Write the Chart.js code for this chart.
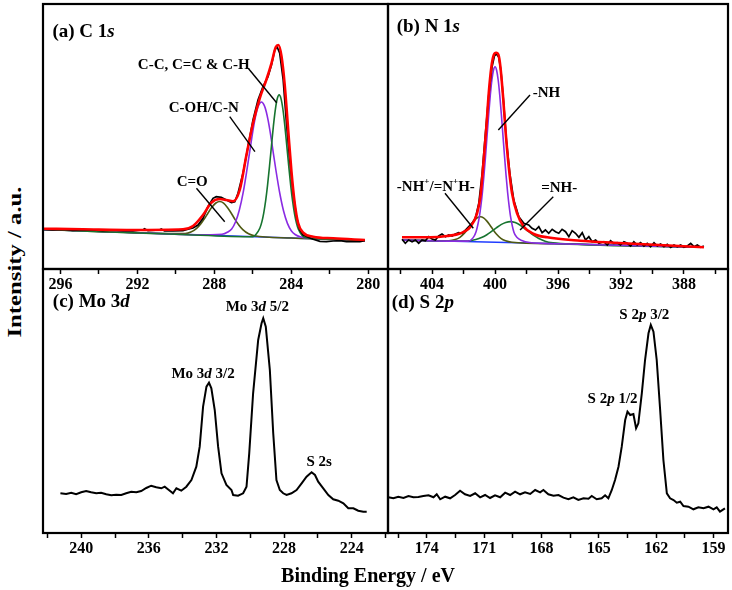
<!DOCTYPE html>
<html><head><meta charset="utf-8">
<script src="https://cdn.jsdelivr.net/npm/chart.js@4"></script>
<style>
body{margin:0;background:#fff;width:732px;height:590px;position:relative;overflow:hidden;font-family:"Liberation Serif","Times New Roman",serif;}
canvas{position:absolute;}
#ylab{position:absolute;left:15px;top:262px;transform:translate(-50%,-50%) rotate(-90deg) scaleX(1.3);font-weight:bold;font-size:19px;white-space:nowrap;}
#xlab{position:absolute;left:368px;top:575px;transform:translate(-50%,-50%);font-weight:bold;font-size:20px;white-space:nowrap;}
</style></head><body>
<canvas id="ca" width="351" height="300" style="left:40px;top:1px"></canvas>
<canvas id="cb" width="346" height="300" style="left:385px;top:1px"></canvas>
<canvas id="cc" width="351" height="299" style="left:40px;top:266px"></canvas>
<canvas id="cd" width="346" height="299" style="left:385px;top:266px"></canvas>
<div id="ylab">Intensity / a.u.</div>
<div id="xlab">Binding Energy / eV</div>
<script>
// ---------- (a) C 1s ----------
const aE_exp = [296.9,296.40,295.88,295.36,294.84,294.32,293.80,293.28,292.75,292.23,291.71,291.63,291.45,290.85,290.76,290.59,290.15,289.63,289.37,289.11,288.85,288.59,288.33,288.07,287.90,287.64,287.37,287.11,286.94,286.77,286.51,286.25,285.99,285.73,285.47,285.21,285.03,284.86,284.74,284.60,284.42,284.25,284.08,283.90,283.73,283.56,283.38,283.12,282.86,282.51,282.17,281.82,281.47,281.13,280.78,280.43,280.17];
const aI_exp = [39.7,39.0,39.7,38.7,39.3,39.0,38.3,39.0,38.3,38.0,39.0,40.3,38.3,39.0,40.0,38.0,38.0,38.3,39.7,41.0,44.0,50.7,62.3,70.7,72.3,71.7,69.0,66.3,67.3,75.7,95.7,122.3,149.0,169.0,182.3,192.3,204.0,219.0,222.3,215.7,189.0,145.7,109.0,75.7,52.3,39.0,34.0,31.7,29.7,27.7,27.3,28.0,28.3,27.3,27.7,27.3,28.3];
const aE_fit = [296.9,294.84,292.23,289.63,289.11,288.59,288.16,287.72,287.37,287.03,286.68,286.33,285.99,285.64,285.30,285.03,284.81,284.67,284.51,284.34,284.16,283.99,283.82,283.64,283.38,282.86,281.82,280.17];
const aI_fit = [40.3,39.7,39.0,39.7,43.0,54.0,66.3,70.0,69.0,67.7,79.0,114.0,145.7,170.7,189.0,205.7,221.7,224.0,213.0,184.0,139.0,97.3,65.7,45.7,36.3,32.3,30.7,29.0];
const aE_bg = [296.9,280.17];
const aI_bg = [39.5,28.5];
const aE_coh = [296.9,292.0,289.0,287.6,287.3,287.1,286.9,286.7,286.5,286.3,286.1,286.0,285.9,285.8,285.7,285.55,285.4,285.3,285.2,285.1,285.0,284.8,284.6,284.4,284.2,284.0,283.8,283.5,283.0,281.5,280.17];
const aI_coh = [39.5,36.3,34.3,34.8,37.0,40.0,47.0,59.0,76.6,99.8,125.0,137.6,148.6,157.5,163.5,167.0,163.3,157.3,148.3,137.3,124.7,99.0,76.0,58.0,45.6,38.3,34.5,32.0,30.7,29.4,28.5];
const aE_cc = [296.9,290.0,286.0,285.83,285.63,285.53,285.43,285.33,285.23,285.13,285.03,284.93,284.83,284.73,284.63,284.53,284.43,284.33,284.23,284.13,284.03,283.93,283.83,283.73,283.63,283.43,283.23,282.0,280.17];
const aI_cc = [39.5,34.8,32.3,34.8,41.0,47.1,56.2,68.6,84.4,103.1,123.2,142.8,159.2,170.2,174.1,170.1,159.0,142.4,122.7,102.5,83.7,67.8,55.2,46.0,39.8,33.4,31.2,29.7,28.5];
const aE_co = [296.9,291.0,289.52,289.22,288.92,288.72,288.52,288.32,288.12,287.92,287.72,287.52,287.32,287.12,286.92,286.72,286.52,286.22,285.92,284.0,280.17];
const aI_co = [39.5,35.6,35.4,36.9,40.7,44.8,50.2,56.3,61.9,66.0,67.5,65.9,61.6,55.8,49.4,43.8,39.4,35.2,33.3,31.0,28.5];
const aTicks = [296,294,292,290,288,286,284,282,280];
const aMajor = [296,292,288,284,280];

// ---------- (b) N 1s ----------
const bE_exp = [405.91,405.70,405.49,405.27,405.06,404.85,404.64,404.43,404.21,404.00,403.79,403.58,403.37,403.15,402.94,402.73,402.52,402.31,402.09,401.88,401.67,401.46,401.25,401.03,400.82,400.61,400.40,400.19,400.04,399.91,399.76,399.62,399.45,399.28,399.06,398.81,398.49,398.17,397.86,397.65,397.43,397.22,397.01,396.80,396.59,396.37,396.16,395.95,395.74,395.52,395.31,395.10,394.89,394.67,394.46,394.25,394.04,393.83,393.61,393.40,393.09,392.87,392.66,392.45,392.24,392.03,391.81,391.60,391.39,391.18,390.97,390.75,390.54,390.33,390.12,389.90,389.69,389.48,389.27,389.06,388.84,388.63,388.42,388.21,388.00,387.78,387.57,387.36,387.15,386.94,386.73];
const bI_exp = [29.7,25.7,29.0,27.3,29.0,25.7,29.0,28.3,32.3,30.0,29.0,33.0,35.0,32.3,34.0,33.0,35.0,36.3,35.7,39.0,42.3,45.7,50.7,65.7,95.7,135.7,174.0,202.3,213.0,215.0,211.7,197.3,165.7,129.0,95.7,69.0,52.3,45.7,44.0,40.7,39.0,42.3,36.3,39.0,35.7,39.7,37.3,35.7,39.7,37.3,32.3,38.3,35.7,31.7,36.3,29.0,32.3,27.3,29.0,25.7,27.3,24.0,28.3,25.7,26.3,24.0,27.3,25.7,23.0,27.3,24.0,26.3,23.0,25.7,22.3,26.3,23.0,25.0,22.3,24.7,21.7,24.0,22.3,24.0,21.7,23.0,25.7,22.3,24.0,21.7,23.0];
const bE_fit = [405.91,404.11,403.05,402.20,401.56,401.14,400.93,400.72,400.55,400.40,400.23,400.08,399.93,399.78,399.66,399.49,399.32,399.13,398.92,398.60,398.17,397.54,396.69,394.57,392.45,386.73];
const bI_fit = [31.7,31.7,33.0,35.7,42.3,55.7,72.3,109.0,142.3,175.7,202.3,214.0,216.3,214.0,202.3,172.3,135.7,102.3,75.7,55.7,42.3,35.0,31.7,28.3,26.3,21.7];
const bE_bg = [405.9,386.73];
const bI_bg = [29.0,21.7];
const bE_nh = [405.9,403.0,401.7,401.4,401.2,401.0,400.9,400.8,400.7,400.6,400.5,400.4,400.3,400.2,400.1,400.0,399.9,399.8,399.7,399.6,399.5,399.4,399.3,399.2,399.1,399.0,398.8,398.6,398.3,397.8,396.0,386.73];
const bI_nh = [29.0,27.9,27.9,31.1,37.6,51.9,63.0,77.1,94.3,113.6,134.5,155.2,174.0,189.2,198.8,202.3,198.8,189.0,173.8,154.9,134.1,113.2,93.7,76.5,62.4,51.1,36.8,31.5,28.5,26.5,25.2,21.7];
const bE_nhp = [405.9,403.5,402.93,402.53,402.23,401.93,401.73,401.53,401.33,401.13,400.93,400.73,400.53,400.33,400.13,399.93,399.63,399.33,398.93,396.0,386.73];
const bI_nhp = [29.0,28.2,28.3,29.4,31.7,36.1,40.0,44.4,48.4,51.3,52.2,51.1,48.1,44.0,39.4,35.3,30.7,28.2,26.8,25.2,21.7];
const bE_nh2 = [405.9,403.0,401.72,401.22,400.82,400.52,400.22,399.92,399.62,399.32,399.02,398.72,398.42,398.12,397.82,397.52,397.22,396.82,396.32,395.82,386.73];
const bI_nh2 = [29.0,27.9,28.0,29.4,31.7,34.3,37.6,41.1,44.4,46.6,47.4,46.4,44.0,40.5,36.8,33.3,30.5,27.8,26.1,25.4,21.7];
const bTicks = [406,404,402,400,398,396,394,392,390,388,386];
const bMajor = [404,400,396,392,388];

// ---------- (c) Mo 3d ----------
const cE = [241.23,240.89,240.59,240.30,240.00,239.71,239.41,239.11,238.82,238.52,238.22,237.93,237.63,237.34,237.04,236.74,236.45,236.15,235.86,235.56,235.26,235.06,234.87,234.57,234.37,234.08,233.78,233.48,233.19,232.99,232.79,232.59,232.44,232.30,232.10,231.90,231.70,231.41,231.11,231.01,230.72,230.42,230.22,230.06,229.83,229.53,229.33,229.23,229.08,228.84,228.64,228.45,228.25,228.05,227.85,227.56,227.26,226.96,226.67,226.37,226.17,225.98,225.68,225.38,225.09,224.79,224.49,224.20,223.90,223.61,223.31,223.11];
const cI = [39.7,39.0,40.3,38.7,40.7,42.0,40.7,39.7,40.3,38.7,37.7,38.3,38.0,39.7,41.3,40.7,42.0,45.0,47.3,45.7,44.7,46.3,43.7,39.7,44.7,42.3,46.3,53.0,66.3,86.3,126.3,146.3,150.3,144.7,123.0,86.3,59.7,48.0,43.0,38.0,37.3,39.7,46.3,79.7,139.7,193.0,209.7,214.7,206.3,163.0,99.7,53.0,43.0,39.7,38.0,39.7,43.0,49.7,56.3,60.7,58.0,51.3,44.7,38.0,33.7,32.3,29.7,24.7,24.7,22.3,21.3,21.3];
const cTicks = [242,240,238,236,234,232,230,228,226,224,222];
const cMajor = [240,236,232,228,224];

// ---------- (d) S 2p ----------
const dE = [176.01,175.75,175.49,175.22,174.96,174.70,174.44,174.18,173.91,173.65,173.48,173.30,173.04,172.78,172.52,172.26,172.00,171.73,171.47,171.21,170.95,170.69,170.43,170.16,169.90,169.64,169.38,169.12,168.86,168.59,168.33,168.07,167.90,167.64,167.37,167.11,166.85,166.59,166.33,166.07,165.80,165.54,165.37,165.11,164.85,164.67,164.50,164.32,164.15,163.97,163.80,163.62,163.50,163.36,163.19,163.05,162.93,162.75,162.58,162.40,162.28,162.14,161.97,161.79,161.62,161.44,161.27,161.09,160.92,160.74,160.57,160.31,160.05,159.79,159.52,159.26,159.00,158.83,158.66,158.40];
const dI = [35.7,34.7,36.3,35.0,37.0,35.7,36.0,37.0,37.7,35.7,38.7,33.7,36.3,34.7,38.0,42.3,38.7,37.0,39.7,35.7,38.0,35.0,37.7,35.7,40.3,38.0,41.3,38.7,40.7,39.0,43.0,40.7,43.0,38.7,37.3,38.0,35.3,33.7,35.7,33.0,34.7,34.3,37.0,33.7,34.7,37.7,34.7,43.0,53.0,66.3,86.3,113.0,121.3,118.0,119.0,104.7,109.7,139.7,173.0,199.7,208.0,201.3,173.0,123.0,73.0,39.7,34.7,33.0,30.3,31.3,27.0,26.3,23.7,25.7,24.7,26.3,23.7,25.7,21.3,24.7];
const dTicks = [175.5,174,172.5,171,169.5,168,166.5,165,163.5,162,160.5,159];
const dMajor = [174,171,168,165,162,159];

// ---------- drawing helpers ----------
const FONT = '"Liberation Serif","Times New Roman",serif';
const COL = {exp:'#000000', fit:'#ff0000', bg:'#1f3cff', main:'#8a2be2', green:'#17742f', olive:'#4f5a12'};

function ser(E, I, color, width, order, smooth) {
  return {data: E.map((e, i) => ({x: e, y: I[i]})), borderColor: color, borderWidth: width,
    pointRadius: 0, fill: false, order: order, tension: 0,
    cubicInterpolationMode: smooth ? 'monotone' : 'default'};
}
function drawRich(ctx, segs, x, y, size, align) {
  const parts = segs.map(([t, st]) => {
    const sz = st === 'sup' ? Math.round(size * 0.62) : size;
    const font = (st === 'i' ? 'italic ' : '') + 'bold ' + sz + 'px ' + FONT;
    ctx.font = font;
    return {t, font, w: ctx.measureText(t).width, dy: st === 'sup' ? -size * 0.36 : 0};
  });
  const total = parts.reduce((a, p) => a + p.w, 0);
  let cx = align === 'center' ? x - total / 2 : x;
  ctx.textBaseline = 'middle'; ctx.textAlign = 'left'; ctx.fillStyle = '#000';
  for (const p of parts) { ctx.font = p.font; ctx.fillText(p.t, cx, y + p.dy); cx += p.w; }
}
const annot = {
  id: 'annot',
  afterDatasetsDraw(chart, args, opts) {
    const {ctx, chartArea: ca, scales: {x, y}} = chart;
    ctx.save();
    ctx.strokeStyle = '#000'; ctx.lineWidth = 2.2;
    ctx.strokeRect(ca.left, ca.top, ca.right - ca.left, ca.bottom - ca.top);
    ctx.lineWidth = 1.4;
    for (const [x1, y1, x2, y2] of (opts.leaders || [])) {
      ctx.beginPath();
      ctx.moveTo(x.getPixelForValue(x1), y.getPixelForValue(y1));
      ctx.lineTo(x.getPixelForValue(x2), y.getPixelForValue(y2));
      ctx.stroke();
    }
    for (const L of (opts.labels || [])) drawRich(ctx, L.segs, x.getPixelForValue(L.x), y.getPixelForValue(L.y), L.size, L.align);
    ctx.restore();
  }
};
function makeChart(id, datasets, xmin, xmax, ymax, ticks, majors, ann) {
  return new Chart(document.getElementById(id), {
    type: 'line',
    data: {datasets},
    plugins: [annot],
    options: {
      responsive: false, animation: false, events: [],
      layout: {padding: {left: 3, right: 3, top: 3, bottom: 0}},
      plugins: {legend: {display: false}, tooltip: {enabled: false}, annot: ann},
      scales: {
        x: {type: 'linear', reverse: true, min: xmin, max: xmax,
          afterBuildTicks: s => { s.ticks = ticks.map(v => ({value: v})); },
          afterFit: s => { s.height = 32; s.paddingLeft = 0; s.paddingRight = 0; },
          ticks: {autoSkip: false, maxRotation: 0, color: '#000', padding: 1,
            font: {family: FONT, size: 16, weight: 'bold'},
            callback: v => majors.some(m => Math.abs(m - v) < 1e-6) ? String(v) : ''},
          grid: {drawOnChartArea: false, drawTicks: true, tickLength: 5, color: '#000', tickWidth: 1.5},
          border: {display: false}},
        y: {display: false, min: 0, max: ymax}
      }
    }
  });
}

makeChart('ca', [
  ser(aE_fit, aI_fit, COL.fit, 2.6, 0, true),
  ser(aE_exp, aI_exp, COL.exp, 1.7, 1, false),
  ser(aE_cc, aI_cc, COL.green, 1.6, 2, true),
  ser(aE_coh, aI_coh, COL.main, 1.6, 3, true),
  ser(aE_co, aI_co, COL.olive, 1.6, 4, true),
  ser(aE_bg, aI_bg, COL.bg, 1.4, 5, false)
], 278.97, 296.91, 265, aTicks, aMajor, {
  labels: [
    {segs: [['(a) C 1', 'n'], ['s', 'i']], x: 296.42, y: 236.5, size: 19, align: 'left'},
    {segs: [['C-C, C=C & C-H', 'n']], x: 289.07, y: 204, size: 15, align: 'center'},
    {segs: [['C-OH/C-N', 'n']], x: 288.55, y: 161, size: 15, align: 'center'},
    {segs: [['C=O', 'n']], x: 289.15, y: 87, size: 15, align: 'center'}
  ],
  leaders: [[286.24, 200.7, 284.76, 166.3], [287.20, 152.3, 285.89, 117.3], [288.93, 80.7, 287.46, 47.3]]
});

makeChart('cb', [
  ser(bE_fit, bI_fit, COL.fit, 2.6, 0, true),
  ser(bE_exp, bI_exp, COL.exp, 1.7, 1, false),
  ser(bE_nh, bI_nh, COL.main, 1.6, 2, true),
  ser(bE_nh2, bI_nh2, COL.green, 1.6, 3, true),
  ser(bE_nhp, bI_nhp, COL.olive, 1.6, 4, true),
  ser(bE_bg, bI_bg, COL.bg, 1.4, 5, false)
], 385.2, 406.8, 265, bTicks, bMajor, {
  labels: [
    {segs: [['(b) N 1', 'n'], ['s', 'i']], x: 406.25, y: 242.3, size: 19, align: 'left'},
    {segs: [['-NH', 'n']], x: 396.73, y: 176, size: 15, align: 'center'},
    {segs: [['-NH', 'n'], ['+', 'sup'], ['/=N', 'n'], ['+', 'sup'], ['H-', 'n']], x: 403.76, y: 81.5, size: 15, align: 'center'},
    {segs: [['=NH-', 'n']], x: 395.92, y: 81, size: 15, align: 'center'}
  ],
  leaders: [[397.78, 174, 399.79, 139], [403.18, 75.7, 401.38, 40.7], [396.30, 72.3, 398.41, 39]]
});

makeChart('cc', [
  ser(cE, cI, COL.exp, 2, 0, false)
], 221.85, 242.26, 264, cTicks, cMajor, {
  labels: [
    {segs: [['(c) Mo 3', 'n'], ['d', 'i']], x: 241.68, y: 231.3, size: 19, align: 'left'},
    {segs: [['Mo 3', 'n'], ['d', 'i'], [' 3/2', 'n']], x: 232.79, y: 159, size: 15, align: 'center'},
    {segs: [['Mo 3', 'n'], ['d', 'i'], [' 5/2', 'n']], x: 229.58, y: 225.7, size: 15, align: 'center'},
    {segs: [['S 2s', 'n']], x: 225.92, y: 71.3, size: 15, align: 'center'}
  ]
});

makeChart('cd', [
  ser(dE, dI, COL.exp, 2, 0, false)
], 158.24, 176.03, 264, dTicks, dMajor, {
  labels: [
    {segs: [['(d) S 2', 'n'], ['p', 'i']], x: 175.84, y: 230.3, size: 19, align: 'left'},
    {segs: [['S 2', 'n'], ['p', 'i'], [' 3/2', 'n']], x: 162.62, y: 218, size: 15, align: 'center'},
    {segs: [['S 2', 'n'], ['p', 'i'], [' 1/2', 'n']], x: 164.28, y: 133.7, size: 15, align: 'center'}
  ]
});
</script>
</body></html>
